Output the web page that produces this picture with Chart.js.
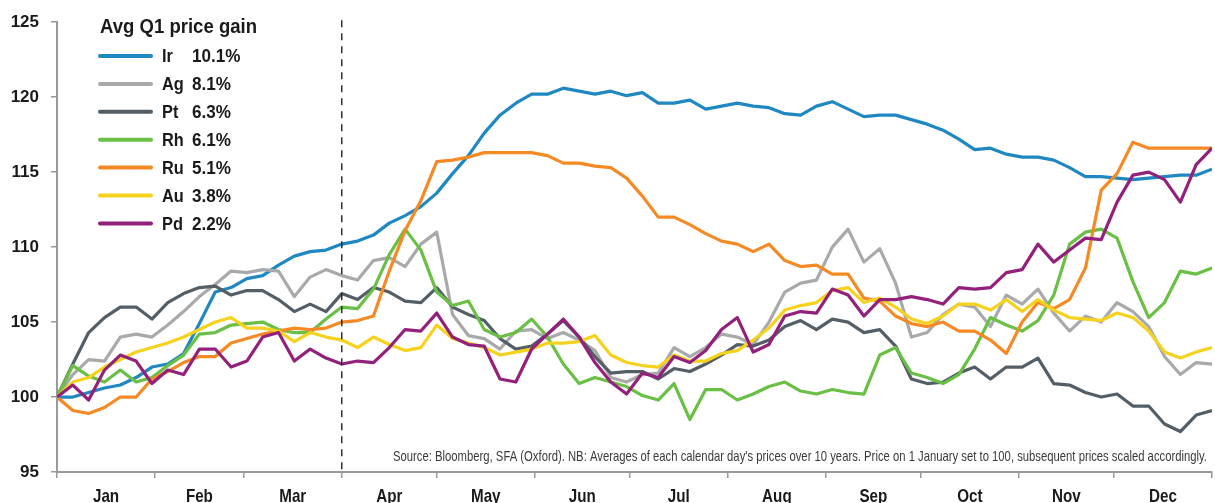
<!DOCTYPE html>
<html>
<head>
<meta charset="utf-8">
<script src="https://cdn.jsdelivr.net/npm/chart.js@4.4.1/dist/chart.umd.min.js"></script>
<style>
  html, body { margin: 0; padding: 0; background: #fff; }
  #wrap { width: 1215px; height: 503px; position: relative; }
</style>
</head>
<body>
<div id="wrap"><canvas id="priceChart"></canvas></div>
<script>
// day of year for each sample (every 5 days)
const days = [0, 5, 10, 15, 20, 25, 30, 35, 40, 45, 50, 55, 60, 65, 70, 75, 80, 85, 90, 95,
  100, 105, 110, 115, 120, 125, 130, 135, 140, 145, 150, 155, 160, 165, 170, 175, 180, 185, 190, 195,
  200, 205, 210, 215, 220, 225, 230, 235, 240, 245, 250, 255, 260, 265, 270, 275, 280, 285, 290, 295,
  300, 305, 310, 315, 320, 325, 330, 335, 340, 345, 350, 355, 360, 365];

const months = ['Jan', 'Feb', 'Mar', 'Apr', 'May', 'Jun', 'Jul', 'Aug', 'Sep', 'Oct', 'Nov', 'Dec'];
const monthStarts = [0, 31, 59, 90, 120, 151, 181, 212, 243, 273, 304, 334, 365];
const yTicks = [95, 100, 105, 110, 115, 120, 125];

const metals = ['Ir', 'Ag', 'Pt', 'Rh', 'Ru', 'Au', 'Pd'];
const q1Gain = ['10.1%', '8.1%', '6.3%', '6.1%', '5.1%', '3.8%', '2.2%'];
const colors = ['#1f88c2', '#a7a9ab', '#545e66', '#6abf45', '#f58a25', '#f5d21e', '#93207b'];

const ir = [100, 100.0, 100.3, 100.6, 100.8, 101.3, 102.0, 102.2, 102.9, 104.9,
  107.0, 107.3, 107.9, 108.1, 108.8, 109.4, 109.7, 109.8, 110.2, 110.4,
  110.8, 111.6, 112.1, 112.7, 113.6, 114.9, 116.1, 117.6, 118.8, 119.6,
  120.2, 120.2, 120.6, 120.4, 120.2, 120.4, 120.1, 120.3, 119.6, 119.6,
  119.8, 119.2, 119.4, 119.6, 119.4, 119.3, 118.9, 118.8, 119.4, 119.7,
  119.2, 118.7, 118.8, 118.8, 118.5, 118.2, 117.8, 117.2, 116.5, 116.6,
  116.2, 116.0, 116.0, 115.8, 115.3, 114.7, 114.7, 114.6, 114.5, 114.6,
  114.7, 114.8, 114.8, 115.2];
const ag = [100, 101.5, 102.5, 102.4, 104.0, 104.2, 104.0, 104.8, 105.7, 106.7,
  107.5, 108.4, 108.3, 108.5, 108.4, 106.7, 108.0, 108.5, 108.1, 107.8,
  109.1, 109.3, 108.7, 110.2, 111.0, 105.5, 104.1, 103.9, 103.2, 104.4,
  104.5, 103.9, 104.3, 103.8, 103.1, 101.3, 101.0, 101.5, 101.6, 103.3,
  102.7, 103.3, 104.2, 104.0, 103.5, 105.0, 107.0, 107.6, 107.8, 110.0,
  111.2, 109.0, 109.9, 107.6, 104.0, 104.3, 105.5, 106.2, 106.0, 104.7,
  106.8, 106.2, 107.2, 105.6, 104.4, 105.4, 105.0, 106.3, 105.7, 104.7,
  102.7, 101.5, 102.3, 102.2];
const pt = [100, 102.2, 104.3, 105.3, 106.0, 106.0, 105.2, 106.3, 106.9, 107.3,
  107.4, 106.8, 107.1, 107.1, 106.5, 105.7, 106.2, 105.7, 106.9, 106.5,
  107.3, 107.0, 106.4, 106.3, 107.3, 106.0, 105.5, 105.1, 103.9, 103.2,
  103.4, 104.2, 105.1, 104.0, 102.7, 101.6, 101.7, 101.7, 101.2, 101.9,
  101.7, 102.2, 102.8, 103.5, 103.4, 103.8, 104.7, 105.1, 104.5, 105.2,
  105.0, 104.3, 104.5, 103.4, 101.2, 100.9, 101.0, 101.6, 102.0, 101.2,
  102.0, 102.0, 102.6, 100.9, 100.8, 100.3, 100.0, 100.2, 99.4, 99.4,
  98.2, 97.7, 98.8, 99.1];
const rh = [100, 102.1, 101.4, 101.0, 101.8, 101.0, 101.3, 102.1, 102.8, 104.2,
  104.3, 104.8, 104.9, 105.0, 104.5, 104.3, 104.3, 105.2, 106.0, 105.9,
  107.2, 109.5, 111.2, 109.8, 107.0, 106.1, 106.4, 104.5, 104.0, 104.3,
  105.2, 104.0, 102.2, 100.9, 101.3, 101.0, 100.7, 100.1, 99.8, 100.9,
  98.5, 100.5, 100.5, 99.8, 100.2, 100.7, 101.0, 100.4, 100.2, 100.5,
  100.3, 100.2, 102.8, 103.3, 101.6, 101.3, 100.9, 101.5, 103.2, 105.3,
  104.8, 104.4, 105.1, 106.8, 110.2, 111.0, 111.2, 110.6, 107.7, 105.3,
  106.3, 108.4, 108.2, 108.6];
const ru = [100, 99.1, 98.9, 99.3, 100.0, 100.0, 101.2, 101.7, 102.3, 102.7,
  102.7, 103.6, 103.9, 104.2, 104.4, 104.6, 104.5, 104.6, 105.0, 105.1,
  105.4, 108.4, 111.1, 113.1, 115.7, 115.8, 116.0, 116.3, 116.3, 116.3,
  116.3, 116.1, 115.6, 115.6, 115.4, 115.3, 114.6, 113.4, 112.0, 112.0,
  111.5, 110.9, 110.4, 110.2, 109.7, 110.2, 109.1, 108.7, 108.8, 108.2,
  108.2, 106.6, 106.4, 105.4, 104.9, 104.7, 105.0, 104.4, 104.4, 103.8,
  102.9, 105.0, 106.3, 105.9, 106.5, 108.6, 113.8, 114.9, 117.0, 116.6,
  116.6, 116.6, 116.6, 116.6];
const au = [100, 101.0, 101.3, 102.0, 102.5, 103.0, 103.3, 103.6, 104.0, 104.5,
  105.0, 105.3, 104.6, 104.6, 104.4, 103.7, 104.3, 104.0, 103.8, 103.3,
  104.0, 103.5, 103.1, 103.3, 104.8, 103.9, 103.6, 103.3, 102.8, 103.0,
  103.2, 103.6, 103.6, 103.7, 104.1, 102.8, 102.3, 102.1, 102.0, 102.8,
  102.4, 102.4, 102.9, 103.1, 103.8, 104.6, 105.8, 106.1, 106.3, 107.1,
  107.3, 106.3, 106.6, 106.0, 105.2, 104.9, 105.4, 106.2, 106.2, 105.8,
  106.5, 105.7, 106.5, 105.8, 105.3, 105.2, 105.1, 105.6, 105.3, 104.4,
  103.0, 102.6, 103.0, 103.3];
const pd = [100, 100.8, 99.8, 101.8, 102.8, 102.4, 100.9, 101.8, 101.5, 103.2,
  103.2, 102.0, 102.4, 104.0, 104.3, 102.4, 103.2, 102.6, 102.2, 102.4,
  102.3, 103.3, 104.5, 104.4, 105.6, 104.0, 103.5, 103.4, 101.2, 101.0,
  103.2, 104.2, 105.2, 104.0, 102.3, 101.0, 100.2, 101.6, 101.3, 102.7,
  102.3, 103.1, 104.5, 105.3, 103.0, 103.5, 105.4, 105.7, 105.6, 107.2,
  106.8, 105.4, 106.5, 106.5, 106.7, 106.5, 106.2, 107.3, 107.2, 107.3,
  108.3, 108.5, 110.2, 109.0, 109.8, 110.6, 110.5, 113.0, 114.8, 115.0,
  114.5, 113.0, 115.5, 116.6];

const seriesValues = [ir, ag, pt, rh, ru, au, pd];

const sourceNote = "Source: Bloomberg, SFA (Oxford). NB: Averages of each calendar day's prices over 10 years. Price on 1 January set to 100, subsequent prices scaled accordingly.";
const legendTitle = 'Avg Q1 price gain';
const q1End = 90;

const sans = "'Liberation Sans', Arial, sans-serif";
const axisGray = '#9a9a9a';
const textColor = '#1a1a1a';

const monthMids = months.map((m, i) => (monthStarts[i] + monthStarts[i + 1]) / 2);

const datasets = metals.map((name, i) => ({
    label: name,
    data: days.map((d, k) => ({ x: d, y: seriesValues[i][k] })),
    borderColor: colors[i],
    backgroundColor: colors[i],
    borderWidth: 3.2,
    pointRadius: 0,
    tension: 0,
    borderJoinStyle: 'round',
    order: metals.length - i
}));

// no condensed face installed, so squeeze the text horizontally
function squeezedText(ctx, text, x, y, sx, align) {
    ctx.save();
    ctx.translate(x, y);
    ctx.scale(sx, 1);
    ctx.textAlign = align || 'left';
    ctx.fillText(text, 0, 0);
    ctx.restore();
}

const extras = {
    id: 'extras',
    afterDatasetsDraw(chart) {
        const ctx = chart.ctx;
        const area = chart.chartArea;
        const xScale = chart.scales.x;
        const x = xScale.getPixelForValue(q1End);

        ctx.save();
        ctx.strokeStyle = '#111';
        ctx.lineWidth = 1.3;
        ctx.setLineDash([7, 6]);
        ctx.beginPath();
        ctx.moveTo(x, area.top - 2);
        ctx.lineTo(x, area.bottom);
        ctx.stroke();
        ctx.setLineDash([]);

        ctx.fillStyle = textColor;
        ctx.textBaseline = 'middle';

        // legend block
        ctx.font = 'bold 21px ' + sans;
        const tw = ctx.measureText(legendTitle).width;
        squeezedText(ctx, legendTitle, 100, 27, 157 / tw);

        ctx.font = 'bold 19px ' + sans;
        metals.forEach((name, i) => {
            const y = 56 + i * 27.9;
            ctx.strokeStyle = colors[i];
            ctx.lineWidth = 4;
            ctx.lineCap = 'round';
            ctx.beginPath();
            ctx.moveTo(100, y);
            ctx.lineTo(151, y);
            ctx.stroke();
            squeezedText(ctx, name, 162, y + 1, 0.86);
            squeezedText(ctx, q1Gain[i], 192, y + 1, 0.9);
        });

        // month labels
        ctx.font = 'bold 19px ' + sans;
        months.forEach((m, i) => {
            squeezedText(ctx, m, xScale.getPixelForValue(monthMids[i]), 497, 0.8, 'center');
        });

        // source note
        ctx.font = '15px ' + sans;
        const sw = ctx.measureText(sourceNote).width;
        ctx.fillStyle = '#3a3a3a';
        squeezedText(ctx, sourceNote, 1207, 457, 814 / sw, 'right');
        ctx.restore();
    }
};

new Chart(document.getElementById('priceChart'), {
    type: 'line',
    data: { datasets: datasets },
    options: {
        responsive: true,
        maintainAspectRatio: false,
        animation: false,
        layout: { padding: { top: 20, right: 0, left: 0, bottom: 0 } },
        plugins: {
            legend: { display: false },
            tooltip: { enabled: false }
        },
        scales: {
            x: {
                type: 'linear',
                min: 0,
                max: 365,
                afterBuildTicks(scale) {
                    scale.ticks = monthStarts.map(v => ({ value: v }));
                },
                afterFit(scale) { scale.height = 31; },
                border: { color: axisGray, width: 2 },
                grid: {
                    drawOnChartArea: false,
                    drawTicks: true,
                    tickLength: 6,
                    lineWidth: 1.5,
                    color: axisGray
                },
                ticks: {
                    autoSkip: false,
                    maxRotation: 0,
                    callback: () => ''
                }
            },
            y: {
                min: 95,
                max: 125,
                afterBuildTicks(scale) {
                    scale.ticks = yTicks.map(v => ({ value: v }));
                },
                afterFit(scale) { scale.width = 57; },
                border: { color: axisGray, width: 2 },
                grid: {
                    drawOnChartArea: false,
                    drawTicks: true,
                    tickLength: 6,
                    lineWidth: 1.5,
                    color: axisGray
                },
                ticks: {
                    padding: 12,
                    color: textColor,
                    font: { family: sans, size: 17, weight: 'bold' }
                }
            }
        }
    },
    plugins: [extras]
});
</script>
</body>
</html>
